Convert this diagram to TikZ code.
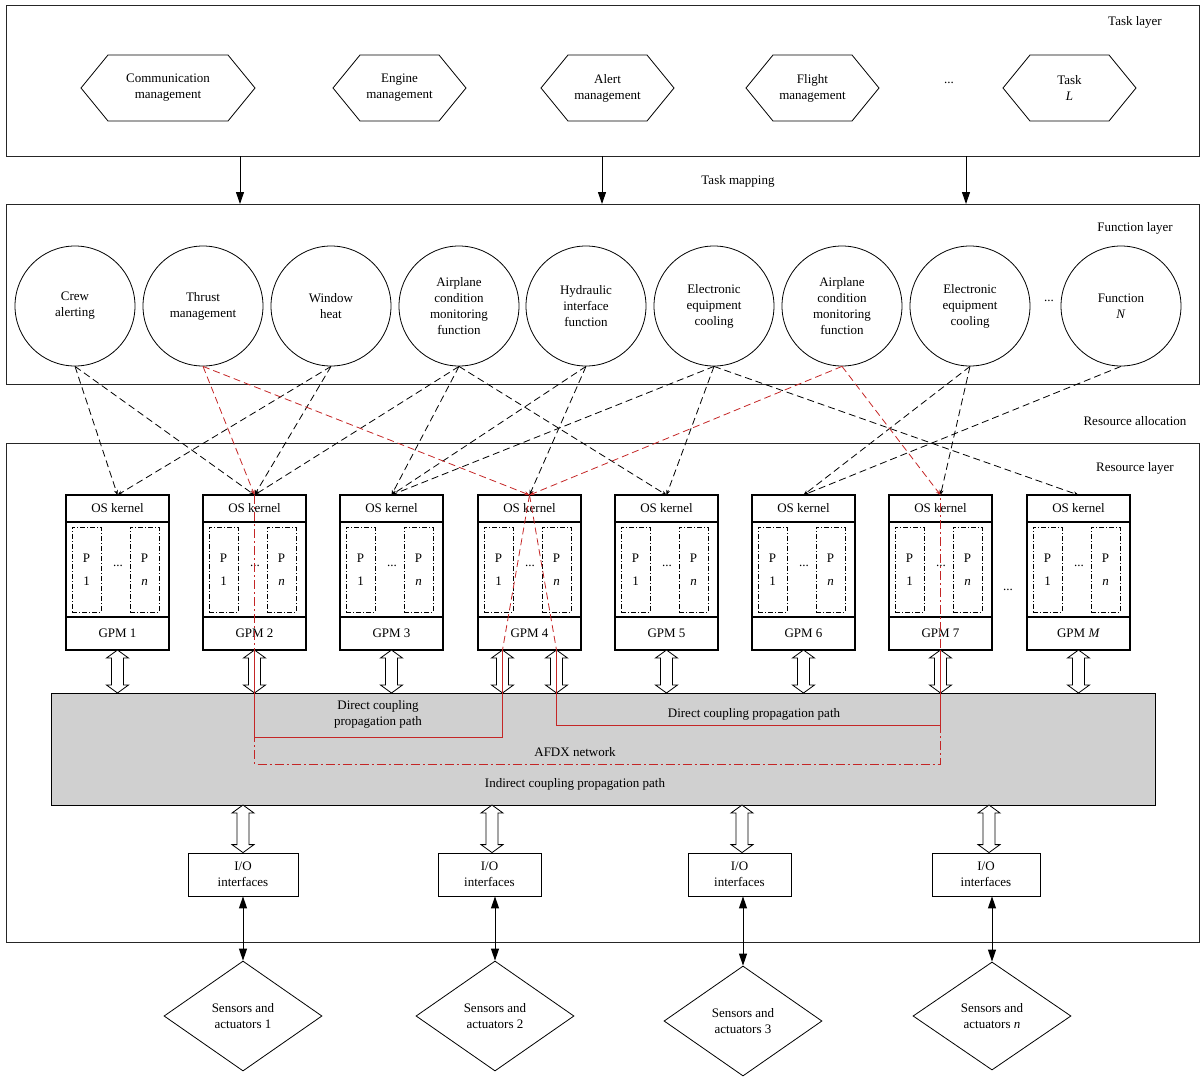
\documentclass[tikz,border=0pt]{standalone}
\usepackage{fontspec}
\setmainfont{Liberation Serif}
\usetikzlibrary{arrows.meta,calc,shapes.geometric}
\definecolor{pathred}{RGB}{196,38,38}
\definecolor{afdxgray}{RGB}{208,208,208}
\newcommand\taskhex[4]{%
  \node[hexlbl, minimum width=#3*2] (#1) at (#2,88) {#4};
  \draw[line width=0.8pt] (#1.west) -- ([xshift=27pt]#1.north west) -- ([xshift=-27pt]#1.north east) -- (#1.east) -- ([xshift=-27pt]#1.south east) -- ([xshift=27pt]#1.south west) -- cycle;}
\newcommand\gpmunit[3]{%
  \node[gbox, minimum height=27] (os#1) at (#2,495) {OS kernel};
  \node[gbox, minimum height=95] (mid#1) at (#2,522) {};
  \node[gbox, minimum height=33] (g#1) at (#2,617) {#3};
  \node[pbox] (pa#1) at (#2-31,569.5) {P\\[7pt]1};
  \node[pbox] (pn#1) at (#2+27,569.5) {P\\[7pt]\textit{n}};
  \node (dots#1) at (#2+0.5,566) {...};}
\newcommand\hollowarrow[2]{%
  \draw[fill=white, line width=0.8pt] ($#1+(-6,8)$) -- ($#1+(-11,8)$) -- #1 -- ($#1+(11,8)$) -- ($#1+(6,8)$) -- ($#2+(6,-8)$) -- ($#2+(11,-8)$) -- #2 -- ($#2+(-11,-8)$) -- ($#2+(-6,-8)$) -- cycle;}
\begin{document}
\begin{tikzpicture}[x=1pt,y=-1pt, font=\fontsize{13}{16}\selectfont,
  layerbox/.style={draw=black!85, line width=0.9pt, inner sep=0, outer sep=0, anchor=north west, minimum width=1193},
  hexlbl/.style={align=center, minimum height=66, inner sep=0, outer sep=0},
  fcirc/.style={circle, draw, line width=0.8pt, minimum size=120, inner sep=0, align=center},
  gbox/.style={draw, line width=1.3pt, minimum width=103, inner sep=0, outer sep=0, anchor=north},
  pbox/.style={draw, line width=0.7pt, dash pattern=on 5pt off 2pt on 1pt off 2pt, minimum width=29, minimum height=85, inner sep=0, align=center},
  alloc/.style={line width=0.8pt, dash pattern=on 7pt off 4pt, -{Stealth[length=5pt,width=4pt]}},
  redalloc/.style={alloc, draw=pathred},
  reddash/.style={line width=0.8pt, draw=pathred, dash pattern=on 7pt off 4pt},
  directp/.style={draw=pathred, line width=0.9pt},
  indirectp/.style={draw=pathred, line width=0.9pt, dash pattern=on 9pt off 3pt on 2pt off 3pt},
  iobox/.style={draw, line width=0.8pt, minimum height=43, inner sep=0, align=center},
  sensor/.style={diamond, draw, line width=0.8pt, minimum width=158, minimum height=110, inner sep=0, align=center},
  biarrow/.style={line width=1pt, {Triangle[length=12pt,width=8pt]}-{Triangle[length=12pt,width=8pt]}},
  maparrow/.style={line width=1pt, -{Triangle[length=12pt,width=8pt]}},
  lbl/.style={inner sep=1pt}]
\useasboundingbox (0,0) rectangle (1203,1077);
% layers
\node[layerbox, minimum height=151] (TL) at (6,5) {};
\node[layerbox, minimum height=180] (FL) at (6,204) {};
\node[layerbox, minimum height=499] (RL) at (6,443) {};
\node[lbl] (tll) at (1135,22) {Task layer};
\node[lbl] (fll) at (1135,228) {Function layer};
\node[lbl] (ral) at (1135,421) {Resource allocation};
\node[lbl] (rll) at (1135,468) {Resource layer};
\node[lbl] (tml) at (738,181) {Task mapping};
% tasks
\taskhex{t1}{168}{87}{Communication\\management}
\taskhex{t2}{399.5}{66.5}{Engine\\management}
\taskhex{t3}{607.5}{66.5}{Alert\\management}
\taskhex{t4}{812.5}{66.5}{Flight\\management}
\taskhex{t5}{1069.5}{66.5}{Task\\\textit{L}}
\node (tdots) at (949,83) {...};
% task mapping arrows
\coordinate (m1) at (240,180);
\coordinate (m2) at (602,180);
\coordinate (m3) at (966,180);
\foreach \m in {m1,m2,m3} \draw[maparrow] (\m |- TL.south) -- (\m |- FL.north);
% functions
\node[fcirc] (f1) at (75,306) {Crew\\alerting};
\node[fcirc] (f2) at (203,306) {Thrust\\management};
\node[fcirc] (f3) at (331,306) {Window\\heat};
\node[fcirc] (f4) at (459,306) {Airplane\\condition\\monitoring\\function};
\node[fcirc] (f5) at (586,306) {Hydraulic\\interface\\function};
\node[fcirc] (f6) at (714,306) {Electronic\\equipment\\cooling};
\node[fcirc] (f7) at (842,306) {Airplane\\condition\\monitoring\\function};
\node[fcirc] (f8) at (970,306) {Electronic\\equipment\\cooling};
\node[fcirc] (f9) at (1121,306) {Function\\\textit{N}};
\node (fdots) at (1049,301) {...};
% GPMs
\gpmunit{1}{117.5}{GPM 1}
\gpmunit{2}{254.5}{GPM 2}
\gpmunit{3}{391.5}{GPM 3}
\gpmunit{4}{529.5}{GPM 4}
\gpmunit{5}{666.5}{GPM 5}
\gpmunit{6}{803.5}{GPM 6}
\gpmunit{7}{940.5}{GPM 7}
\gpmunit{8}{1078.5}{GPM \textit{M}}
\node (gdots) at (1008,590) {...};
% AFDX
\node[draw, fill=afdxgray, line width=0.9pt, minimum width=1104, minimum height=112, anchor=north west, inner sep=0, outer sep=0] (afdx) at (51,693) {};
\node[lbl, align=center] (dcp1) at (378,714) {Direct coupling\\propagation path};
\node[lbl] (dcp2) at (754,714) {Direct coupling propagation path};
\node[lbl] (afdxl) at (575,752) {AFDX network};
\node[lbl] (icp) at (575,784) {Indirect coupling propagation path};
% hollow arrows GPM <-> AFDX
\coordinate (l4) at ($(g4.south)+(-27,0)$);
\coordinate (r4) at ($(g4.south)+(27,0)$);
\foreach \c in {g1.south,g2.south,g3.south,g5.south,g6.south,g7.south,g8.south,l4,r4} {
  \coordinate (ha) at (\c);
  \coordinate (hb) at (\c |- afdx.north);
  \hollowarrow{(ha)}{(hb)}
}
% I/O
\node[iobox, minimum width=110] (io1) at (243,874.5) {I/O\\interfaces};
\node[iobox, minimum width=103] (io2) at (489.5,874.5) {I/O\\interfaces};
\node[iobox, minimum width=103] (io3) at (739.5,874.5) {I/O\\interfaces};
\node[iobox, minimum width=108] (io4) at (986,874.5) {I/O\\interfaces};
\coordinate (x1) at (243,0);
\coordinate (x2) at (492,0);
\coordinate (x3) at (742,0);
\coordinate (x4) at (989,0);
\foreach \i in {1,2,3,4} {
  \coordinate (ha) at (x\i |- afdx.south);
  \coordinate (hb) at (x\i |- io\i.north);
  \hollowarrow{(ha)}{(hb)}
}
% sensors
\node[sensor] (s1) at (243,1016) {Sensors and\\actuators 1};
\node[sensor] (s2) at (495,1016) {Sensors and\\actuators 2};
\node[sensor] (s3) at (743,1021) {Sensors and\\actuators 3};
\node[sensor, minimum height=108] (s4) at (992,1016) {Sensors and\\actuators \textit{n}};
\foreach \i in {1,2,3,4} \draw[biarrow] (s\i.north |- io\i.south) -- (s\i.north);
% resource allocation
\foreach \a/\b in {f1/os1,f1/os2,f3/os1,f3/os2,f4/os2,f4/os3,f4/os5,f5/os3,f5/os4,f6/os3,f6/os5,f6/os8,f8/os6,f8/os7,f9/os6}
  \draw[alloc] (\a.south) -- (\b.north);
\foreach \a/\b in {f2/os2,f2/os4,f7/os4,f7/os7}
  \draw[redalloc] (\a.south) -- (\b.north);
% propagation paths
\coordinate (dc1) at (0,737);
\coordinate (dc2) at (0,725);
\coordinate (ic) at (0,764);
\draw[reddash] (os4.north) -- (l4);
\draw[reddash] (os4.north) -- (r4);
\draw[directp] (g2.south) -- (g2.south |- dc1) -- (l4 |- dc1) -- (l4);
\draw[directp] (r4) -- (r4 |- dc2) -- (g7.south |- dc2) -- (g7.south);
\draw[indirectp] (os2.north) -- (os2.north |- ic) -- (os7.north |- ic) -- (os7.north);
\end{tikzpicture}
\end{document}
